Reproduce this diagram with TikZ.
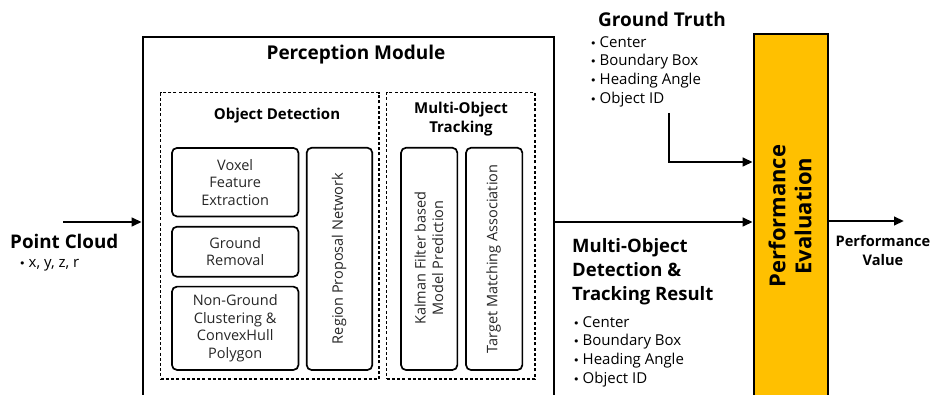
\documentclass[tikz,border=0pt]{standalone}
\usepackage{fontspec}
\setmainfont{Open Sans}
\newfontfamily\dotfont{DejaVu Sans}
\usetikzlibrary{arrows.meta}
\newcommand\listdot{{\dotfont\fontsize{11}{11}\selectfont•}\hspace{3pt}}
\begin{document}
\begin{tikzpicture}[x=1pt,y=-1pt,
  modulebox/.style={draw,line width=2.6pt,inner sep=0pt},
  groupbox/.style={draw,line width=1.4pt,dash pattern=on 3pt off 2.2pt,inner sep=0pt},
  stagebox/.style={draw,rounded corners=5pt,line width=1.7pt,inner sep=0pt},
  flow/.style={line width=2.4pt,-{Triangle[length=10pt,width=8.5pt]}},
  stagetext/.style={text=black!85,align=center,font=\fontsize{14.5}{17.5}\selectfont},
  heading/.style={font=\bfseries\fontsize{15}{19}\selectfont,align=center},
  bigheading/.style={font=\bfseries\fontsize{18.5}{24}\selectfont,align=left},
  itemlist/.style={font=\fontsize{15}{18.7}\selectfont,align=left,inner sep=0pt},
]
\useasboundingbox (0,0) rectangle (938,395);

% main blocks (both run past the lower edge of the page)
\node[modulebox,minimum width=411pt,minimum height=390pt] (pm) at (348.5,232) {};
\node[modulebox,fill={rgb,255:red,255;green,192;blue,0},minimum width=74pt,minimum height=390pt] (pe) at (791,229) {};

\node[font=\bfseries\fontsize{19}{22}\selectfont] (pmtitle) at (356,55) {Perception Module};

% object detection group
\node[groupbox,minimum width=218.3pt,minimum height=286.3pt] (od) at (269.9,235.9) {};
\node[heading] (odtitle) at (277,116) {Object Detection};
\node[stagebox,minimum width=126.5pt,minimum height=68.5pt] (voxel) at (235.2,182.2) {};
\node[stagetext] at (voxel) {Voxel\\Feature\\Extraction};
\node[stagebox,minimum width=126.5pt,minimum height=50pt] (ground) at (235.2,251.7) {};
\node[stagetext] at (ground) {Ground\\Removal};
\node[stagebox,minimum width=126.5pt,minimum height=83.3pt] (nonground) at (235.2,328.3) {};
\node[stagetext] at (nonground) {Non-Ground\\Clustering \&\\ConvexHull\\Polygon};
\node[stagebox,minimum width=65.6pt,minimum height=222.3pt] (rpn) at (339.5,258.9) {};
\node[stagetext,rotate=90] at (339,258.5) {Region Proposal Network};

% multi-object tracking group
\node[groupbox,minimum width=148.3pt,minimum height=286.3pt] (mot) at (460.9,235.9) {};
\node[heading] (mottitle) at (461,119.5) {Multi-Object\\Tracking};
\node[stagebox,minimum width=56.3pt,minimum height=222.3pt] (kalman) at (429.2,258.9) {};
\node[stagetext,rotate=90] at (429,258) {Kalman Filter based\\Model Prediction};
\node[stagebox,minimum width=56.3pt,minimum height=222.3pt] (target) at (494.2,258.9) {};
\node[stagetext,rotate=90] at (493.5,259) {Target Matching Association};

% input
\node[font=\bfseries\fontsize{18.8}{22}\selectfont,anchor=west,inner sep=0pt] (pc) at (10,241) {Point Cloud};
\node[itemlist,anchor=west] (pcitems) at (19,265) {\listdot x, y, z, r};

% ground truth
\node[font=\bfseries\fontsize{19}{21}\selectfont,anchor=west,inner sep=0pt] (gt) at (598,19) {Ground Truth};
\node[itemlist,anchor=north west] (gtitems) at (590,36) {\listdot Center\\\listdot Boundary Box\\\listdot Heading Angle\\\listdot Object ID};

% tracking result
\node[bigheading,anchor=west,inner sep=0pt] (res) at (572,272) {Multi-Object\\Detection \&\\Tracking Result};
\node[itemlist,anchor=north west] (resitems) at (573,316) {\listdot Center\\\listdot Boundary Box\\\listdot Heading Angle\\\listdot Object ID};

% evaluation block label and output
\node[font=\bfseries\fontsize{22}{26}\selectfont,rotate=90,align=center] (petext) at (790,216) {Performance\\Evaluation};
\node[font=\bfseries\fontsize{14.6}{19}\selectfont,align=center] (pv) at (883,250) {Performance\\Value};

% connectors
\coordinate (pcstart) at (63,222);
\coordinate (mainrow) at (0,222);
\coordinate (gtdrop) at (669,113);
\coordinate (gtrow) at (0,162);
\coordinate (pvrow) at (0,221);
\coordinate (pvend) at (904,221);
\draw[flow] (pcstart) -- (pcstart -| pm.west);
\draw[flow] (mainrow -| pm.east) -- (mainrow -| pe.west);
\draw[flow] (gtdrop) |- (gtrow -| pe.west);
\draw[flow] (pvrow -| pe.east) -- (pvend);
\end{tikzpicture}
\end{document}
